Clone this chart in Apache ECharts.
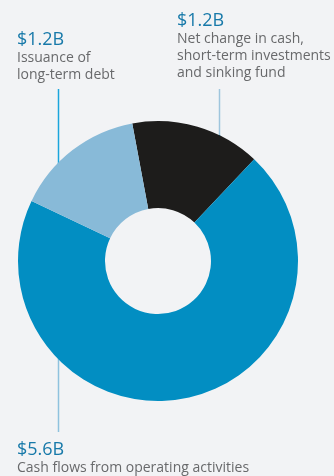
<!DOCTYPE html>
<html>
<head>
<meta charset="utf-8">
<script src="https://cdn.jsdelivr.net/npm/echarts@6/dist/echarts.min.js"></script>
<style>
  html, body { margin: 0; padding: 0; background: #f2f3f5; }
  #chart { width: 334px; height: 476px; }
</style>
</head>
<body>
<div id="chart"></div>
<script>
// Sources of cash, in billions of dollars
const categories = [
  'Net change in cash,\nshort-term investments\nand sinking fund',
  'Cash flows from operating activities',
  'Issuance of\nlong-term debt'
];
const values = [1.2, 5.6, 1.2];
const sliceColors = ['#1d1c1b', '#028ec2', '#88bad8'];

// Where each callout text block sits (left edge, top edge)
const labelSpots = [
  { x: 177, y: 10 },
  { x: 17, y: 439 },
  { x: 17, y: 29 }
];

const chart = echarts.init(document.getElementById('chart'), null, { renderer: 'canvas' });

const FONT = '"Open Sans", "Noto Sans", sans-serif';

chart.setOption({
  backgroundColor: '#f2f3f5',
  animation: false,
  series: [{
    type: 'pie',
    center: [158, 261],
    radius: [53, 140],
    startAngle: 100.6,
    clockwise: true,
    avoidLabelOverlap: false,
    silent: true,
    emphasis: { disabled: true },
    labelLine: { show: false },
    data: categories.map((name, i) => ({
      name,
      value: values[i],
      itemStyle: { color: sliceColors[i] }
    })),
    label: {
      show: true,
      formatter: p => `{v|$${p.value.toFixed(1)}B}\n{n|${p.name}}`,
      rich: {
        v: { fontFamily: FONT, fontSize: 18, lineHeight: 21, color: '#1779a9' },
        n: { fontFamily: FONT, fontSize: 14, lineHeight: 17, color: '#68696b' }
      }
    },
    labelLayout: p => ({
      x: labelSpots[p.dataIndex].x,
      y: labelSpots[p.dataIndex].y,
      align: 'left',
      verticalAlign: 'top'
    })
  }],
  graphic: [
    // leader for the long-term debt slice
    { type: 'line', shape: { x1: 58.5, y1: 89, x2: 58.5, y2: 198 },
      style: { stroke: '#1ba5dc', lineWidth: 1.5 } },
    { type: 'circle', shape: { cx: 58.5, cy: 198, r: 3 }, style: { fill: '#1ba5dc' } },
    // leader for the net change slice
    { type: 'line', shape: { x1: 219.5, y1: 89, x2: 219.5, y2: 135 },
      style: { stroke: '#9fc5dd', lineWidth: 1.5 } },
    { type: 'line', shape: { x1: 219.5, y1: 135, x2: 219.5, y2: 164 },
      style: { stroke: '#1a83b6', lineWidth: 1.5 } },
    { type: 'circle', shape: { cx: 219.5, cy: 164, r: 3 }, style: { fill: '#1a86bb' } },
    // leader for the operating activities slice
    { type: 'line', shape: { x1: 58.5, y1: 290, x2: 58.5, y2: 432 },
      style: { stroke: '#8fc2de', lineWidth: 1.5 } },
    { type: 'circle', shape: { cx: 58.5, cy: 290, r: 3 }, style: { fill: '#8fc2de' } }
  ]
});
</script>
</body>
</html>
